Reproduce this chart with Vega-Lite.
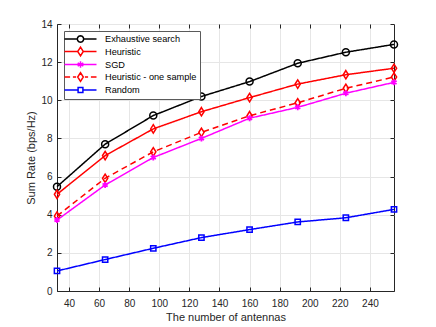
{
  "$schema": "https://vega.github.io/schema/vega-lite/v6.json",
  "width": 337,
  "height": 267,
  "autosize": "none",
  "padding": {"left": 57, "top": 24, "right": 42, "bottom": 36},
  "config": {
    "font": "Liberation Sans",
    "view": {"stroke": "#262626", "strokeWidth": 1},
    "axis": {
      "domainColor": "#262626",
      "tickColor": "#262626",
      "labelColor": "#262626",
      "titleColor": "#262626",
      "labelFontSize": 10,
      "titleFontSize": 11,
      "titleFontWeight": "normal",
      "gridColor": "#e6e6e6",
      "tickSize": -4,
      "labelPadding": 10
    },
    "legend": {
      "orient": "top-left",
      "offset": 7,
      "strokeColor": "#5a5a5a",
      "fillColor": "white",
      "padding": 3,
      "labelFontSize": 9.2,
      "labelColor": "#000000",
      "rowPadding": -2.5,
      "symbolSize": 64,
      "symbolStrokeWidth": 1.5,
      "symbolOffset": 8.5,
      "labelOffset": 19.5
    }
  },
  "data": {
    "values": [
      {"n": 32, "series": "Exhaustive search", "rate": 5.47},
      {"n": 64, "series": "Exhaustive search", "rate": 7.7},
      {"n": 96, "series": "Exhaustive search", "rate": 9.2},
      {"n": 128, "series": "Exhaustive search", "rate": 10.2},
      {"n": 160, "series": "Exhaustive search", "rate": 10.98},
      {"n": 192, "series": "Exhaustive search", "rate": 11.94},
      {"n": 224, "series": "Exhaustive search", "rate": 12.52},
      {"n": 256, "series": "Exhaustive search", "rate": 12.93},
      {"n": 32, "series": "Heuristic", "rate": 5.07},
      {"n": 64, "series": "Heuristic", "rate": 7.1},
      {"n": 96, "series": "Heuristic", "rate": 8.5},
      {"n": 128, "series": "Heuristic", "rate": 9.4},
      {"n": 160, "series": "Heuristic", "rate": 10.14},
      {"n": 192, "series": "Heuristic", "rate": 10.85},
      {"n": 224, "series": "Heuristic", "rate": 11.34},
      {"n": 256, "series": "Heuristic", "rate": 11.68},
      {"n": 32, "series": "SGD", "rate": 3.72},
      {"n": 64, "series": "SGD", "rate": 5.56},
      {"n": 96, "series": "SGD", "rate": 7.0},
      {"n": 128, "series": "SGD", "rate": 8.0},
      {"n": 160, "series": "SGD", "rate": 9.06},
      {"n": 192, "series": "SGD", "rate": 9.63},
      {"n": 224, "series": "SGD", "rate": 10.37},
      {"n": 256, "series": "SGD", "rate": 10.94},
      {"n": 32, "series": "Heuristic - one sample", "rate": 3.93},
      {"n": 64, "series": "Heuristic - one sample", "rate": 5.91},
      {"n": 96, "series": "Heuristic - one sample", "rate": 7.3},
      {"n": 128, "series": "Heuristic - one sample", "rate": 8.32},
      {"n": 160, "series": "Heuristic - one sample", "rate": 9.19},
      {"n": 192, "series": "Heuristic - one sample", "rate": 9.87},
      {"n": 224, "series": "Heuristic - one sample", "rate": 10.63},
      {"n": 256, "series": "Heuristic - one sample", "rate": 11.22},
      {"n": 32, "series": "Random", "rate": 1.05},
      {"n": 64, "series": "Random", "rate": 1.65},
      {"n": 96, "series": "Random", "rate": 2.24},
      {"n": 128, "series": "Random", "rate": 2.8},
      {"n": 160, "series": "Random", "rate": 3.22},
      {"n": 192, "series": "Random", "rate": 3.62},
      {"n": 224, "series": "Random", "rate": 3.84},
      {"n": 256, "series": "Random", "rate": 4.28}
    ]
  },
  "resolve": {"axis": {"x": "independent", "y": "independent"}},
  "layer": [
    {
      "mark": {"type": "line", "strokeWidth": 1.5},
      "encoding": {
        "x": {"field": "n", "type": "quantitative", "scale": {"domain": [32, 256], "nice": false},
              "axis": {"values": [40, 60, 80, 100, 120, 140, 160, 180, 200, 220, 240], "title": "The number of antennas", "grid": true, "titlePadding": 3, "labelPadding": 11}},
        "y": {"field": "rate", "type": "quantitative", "scale": {"domain": [0, 14], "nice": false},
              "axis": {"values": [0, 2, 4, 6, 8, 10, 12, 14], "title": "Sum Rate (bps/Hz)", "grid": true, "titlePadding": 4, "labelPadding": 9}},
        "color": {"field": "series", "type": "nominal", "title": null,
                  "scale": {"domain": ["Exhaustive search", "Heuristic", "SGD", "Heuristic - one sample", "Random"],
                            "range": ["#000000", "#ff0000", "#ff00ff", "#ff0000", "#0000ff"]}},
        "strokeDash": {"field": "series", "type": "nominal", "legend": null,
                       "scale": {"range": [[1, 0], [1, 0], [6, 4], [1, 0], [1, 0]]}}
      }
    },
    {
      "transform": [{"filter": "datum.series === 'Exhaustive search'"}],
      "mark": {"type": "point", "shape": "circle", "size": 49, "filled": false, "strokeWidth": 1.5, "opacity": 1},
      "encoding": {
        "x": {"field": "n", "type": "quantitative", "axis": null},
        "y": {"field": "rate", "type": "quantitative", "axis": null},
        "color": {"field": "series", "type": "nominal", "title": null}
      }
    },
    {
      "transform": [{"filter": "datum.series === 'Heuristic' || datum.series === 'Heuristic - one sample'"}],
      "mark": {"type": "point", "shape": "M0,-1.2L0.75,0L0,1.2L-0.75,0Z", "size": 49, "filled": false, "strokeWidth": 1.5, "opacity": 1},
      "encoding": {
        "x": {"field": "n", "type": "quantitative", "axis": null},
        "y": {"field": "rate", "type": "quantitative", "axis": null},
        "color": {"field": "series", "type": "nominal", "title": null}
      }
    },
    {
      "transform": [{"filter": "datum.series === 'SGD'"}],
      "mark": {"type": "point", "shape": "M0,-1V1M-0.87,-0.5L0.87,0.5M-0.87,0.5L0.87,-0.5", "size": 36, "filled": false, "strokeWidth": 1.8, "opacity": 1},
      "encoding": {
        "x": {"field": "n", "type": "quantitative", "axis": null},
        "y": {"field": "rate", "type": "quantitative", "axis": null},
        "color": {"field": "series", "type": "nominal", "title": null}
      }
    },
    {
      "transform": [{"filter": "datum.series === 'Random'"}],
      "mark": {"type": "point", "shape": "square", "size": 28, "filled": false, "strokeWidth": 1.5, "opacity": 1},
      "encoding": {
        "x": {"field": "n", "type": "quantitative", "axis": null},
        "y": {"field": "rate", "type": "quantitative", "axis": null},
        "color": {"field": "series", "type": "nominal", "title": null}
      }
    },
    {
      "transform": [{"filter": "datum.rate < 0"}],
      "mark": {"type": "point", "filled": false, "strokeWidth": 1.5, "opacity": 1},
      "encoding": {
        "x": {"field": "n", "type": "quantitative",
              "axis": {"orient": "top", "values": [40, 60, 80, 100, 120, 140, 160, 180, 200, 220, 240], "labels": false, "title": null, "grid": false, "domain": false}},
        "y": {"field": "rate", "type": "quantitative",
              "axis": {"orient": "right", "values": [0, 2, 4, 6, 8, 10, 12, 14], "labels": false, "title": null, "grid": false, "domain": false}},
        "color": {"field": "series", "type": "nominal", "title": null},
        "shape": {"field": "series", "type": "nominal", "title": null,
                  "scale": {"domain": ["Exhaustive search", "Heuristic", "SGD", "Heuristic - one sample", "Random"],
                            "range": [
                              "M-4,0H-0.8M0.8,0H4M0.8,0L0.693,0.4L0.4,0.693L0,0.8L-0.4,0.693L-0.693,0.4L-0.8,0L-0.693,-0.4L-0.4,-0.693L0,-0.8L0.4,-0.693L0.693,-0.4Z",
                              "M-4,0H-0.7M0.7,0H4M0,-1.1L0.7,0L0,1.1L-0.7,0Z",
                              "M-4,0H4M0,-0.8V0.8M-0.7,-0.4L0.7,0.4M-0.7,0.4L0.7,-0.4",
                              "M-4,0H-2.6M-1.9,0H-1.1M1.1,0H1.9M2.6,0H4M0,-1.1L0.7,0L0,1.1L-0.7,0Z",
                              "M-4,0H-0.6M0.6,0H4M-0.6,-0.6H0.6V0.6H-0.6Z"
                            ]}}
      }
    }
  ]
}
